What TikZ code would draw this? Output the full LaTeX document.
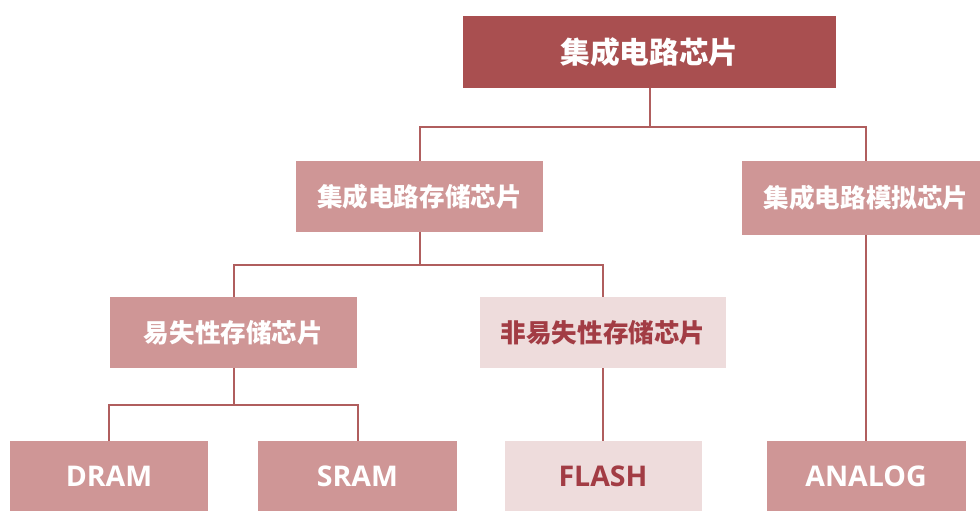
\documentclass[tikz,border=0pt]{standalone}
\usepackage{fontspec}
\newfontfamily\cjk{Noto Sans CJK SC}
\newfontfamily\lat{Open Sans}
\definecolor{darkred}{HTML}{A94F50}
\definecolor{midpink}{HTML}{CF9696}
\definecolor{lightpink}{HTML}{EEDCDC}
\definecolor{linecol}{HTML}{B05E5E}
\definecolor{txtred}{HTML}{A23C44}
\begin{document}
\begin{tikzpicture}[x=1pt,y=-1pt,
  box/.style={inner sep=0pt, minimum width=247pt, minimum height=71pt},
  leaf/.style={inner sep=0pt, minimum width=198pt, minimum height=70pt, font=\lat\bfseries\fontsize{28.5}{30}\selectfont},
  mid/.style={fill=midpink, text=white},
  light/.style={fill=lightpink, text=txtred},
  zh/.style={font=\cjk\bfseries\fontsize{25.6}{28}\selectfont},
  conn/.style={draw=linecol, line width=2pt}]
\useasboundingbox (0,0) rectangle (980,511);
\clip (0,0) rectangle (980,511);
\fill[white] (0,0) rectangle (980,511);
\node[box, fill=darkred, text=white, minimum width=373pt, minimum height=72pt,
      font=\cjk\bfseries\fontsize{29.7}{32}\selectfont] (top) at (649.5,52) {集成电路芯片};
\node[box, mid, zh] (st) at (419.5,196.5) {集成电路存储芯片};
\node[box, mid, zh, minimum width=248pt, minimum height=74pt] (an) at (866,198) {集成电路模拟芯片};
\node[box, mid, zh] (vo) at (233.5,332.5) {易失性存储芯片};
\node[box, light, zh, minimum width=246pt] (nv) at (603,332.5) {非易失性存储芯片};
\node[leaf, mid] (dram) at (109,476) {DRAM};
\node[leaf, mid, minimum width=199pt] (sram) at (357.5,476) {SRAM};
\node[leaf, light, minimum width=197pt] (flash) at (603,476) {FLASH};
\node[leaf, mid, minimum width=199pt] (analog) at (866,476) {ANALOG};
\coordinate (b1) at (0,127);
\coordinate (b2) at (0,265);
\coordinate (b3) at (0,405);
\draw[conn] (top.south) -- (top.south |- b1);
\draw[conn] (st.north) |- (b1 -| an.north) -- (an.north);
\draw[conn] (st.south) -- (st.south |- b2);
\draw[conn] (vo.north) |- (b2 -| nv.north) -- (nv.north);
\draw[conn] (vo.south) -- (vo.south |- b3);
\draw[conn] (dram.north) |- (b3 -| sram.north) -- (sram.north);
\draw[conn] (nv.south) -- (flash.north);
\draw[conn] (an.south) -- (analog.north);
\end{tikzpicture}
\end{document}
